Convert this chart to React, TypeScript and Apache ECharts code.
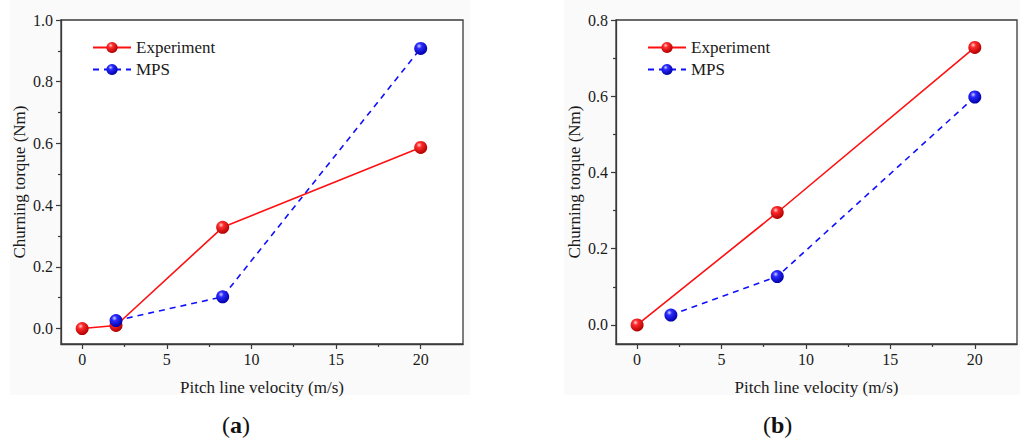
import React, { useEffect, useRef } from "react";
import * as echarts from "echarts";

const xMajor = [0, 5, 10, 15, 20];
const xMinor = [2.5, 7.5, 12.5, 17.5];
const yMajorA = [0, 0.2, 0.4, 0.6, 0.8, 1.0];
const yMinorA = [0.1, 0.3, 0.5, 0.7, 0.9];
const yMajorB = [0, 0.2, 0.4, 0.6, 0.8];
const yMinorB = [0.1, 0.3, 0.5, 0.7];

const expA: [number, number][] = [[0, 0], [2, 0.01], [8.3, 0.328], [20, 0.587]];
const mpsA: [number, number][] = [[2, 0.026], [8.3, 0.103], [20, 0.908]];
const expB: [number, number][] = [[0, 0], [8.3, 0.295], [20, 0.728]];
const mpsB: [number, number][] = [[2, 0.026], [8.3, 0.127], [20, 0.598]];

const FONT = "Liberation Serif";
const TXT = "#1a1a1a";
const AX = "#3a3a3a";

const redBall = new echarts.graphic.RadialGradient(0.38, 0.32, 0.68, [
  { offset: 0, color: "#ffd0d0" },
  { offset: 0.3, color: "#ff2a2a" },
  { offset: 1, color: "#b00000" },
]);
const blueBall = new echarts.graphic.RadialGradient(0.38, 0.32, 0.68, [
  { offset: 0, color: "#d0d0ff" },
  { offset: 0.3, color: "#2a2aff" },
  { offset: 1, color: "#0000a8" },
]);

function xAxes(grid: number) {
  const base = {
    gridIndex: grid,
    type: "value" as const,
    position: "bottom" as const,
    min: -1.25,
    max: 22.5,
    splitLine: { show: false },
  };
  return [
    {
      ...base,
      name: "Pitch line velocity (m/s)",
      nameLocation: "middle" as const,
      nameGap: 35,
      nameTextStyle: { fontFamily: FONT, fontSize: 17, color: TXT },
      axisLine: { show: true, onZero: false, lineStyle: { color: AX, width: 1.3 } },
      axisTick: { show: true, inside: false, length: 5, customValues: xMajor, lineStyle: { color: AX, width: 1.2 } },
      axisLabel: { show: true, margin: 7, customValues: xMajor, fontFamily: FONT, fontSize: 16, color: TXT },
    },
    {
      ...base,
      axisLine: { show: false, onZero: false },
      axisTick: { show: true, inside: false, length: 3, customValues: xMinor, lineStyle: { color: AX, width: 1.2 } },
      axisLabel: { show: false },
    },
  ];
}

function yAxes(grid: number, max: number, major: number[], minor: number[]) {
  const base = {
    gridIndex: grid,
    type: "value" as const,
    position: "left" as const,
    min: -0.05,
    max,
    splitLine: { show: false },
  };
  return [
    {
      ...base,
      name: "Churning torque (Nm)",
      nameLocation: "middle" as const,
      nameGap: 33,
      nameTextStyle: { fontFamily: FONT, fontSize: 17, color: TXT },
      axisLine: { show: true, onZero: false, lineStyle: { color: AX, width: 1.3 } },
      axisTick: { show: true, inside: false, length: 5, customValues: major, lineStyle: { color: AX, width: 1.2 } },
      axisLabel: {
        show: true,
        margin: 8,
        customValues: major,
        formatter: (v: number) => v.toFixed(1),
        fontFamily: FONT,
        fontSize: 16,
        color: TXT,
      },
    },
    {
      ...base,
      axisLine: { show: false, onZero: false },
      axisTick: { show: true, inside: false, length: 3, customValues: minor, lineStyle: { color: AX, width: 1.2 } },
      axisLabel: { show: false },
    },
  ];
}

function expSeries(name: string, data: [number, number][], xi: number, yi: number) {
  return {
    name,
    type: "line",
    xAxisIndex: xi,
    yAxisIndex: yi,
    data,
    symbol: "circle",
    symbolSize: 13,
    lineStyle: { color: "#ff1010", width: 1.6 },
    itemStyle: { color: redBall, borderWidth: 0 },
    z: 3,
  };
}
function mpsSeries(name: string, data: [number, number][], xi: number, yi: number) {
  return {
    name,
    type: "line",
    xAxisIndex: xi,
    yAxisIndex: yi,
    data,
    symbol: "circle",
    symbolSize: 13,
    lineStyle: { color: "#1010ff", width: 1.6, type: [6, 5] },
    itemStyle: { color: blueBall, borderWidth: 0 },
    z: 4,
  };
}

export default function App() {
  const ref = useRef<HTMLDivElement>(null);
  useEffect(() => {
    if (!ref.current) return;
    const chart = echarts.init(ref.current, undefined, { renderer: "svg" });
    const legendCommon = {
      orient: "vertical" as const,
      itemWidth: 38,
      itemHeight: 14,
      itemGap: 5,
      padding: 0,
      textStyle: { fontFamily: FONT, fontSize: 17, color: TXT },
      selectedMode: false,
    };
    chart.setOption({
      animation: false,
      backgroundColor: "#ffffff",
      graphic: [
        { type: "rect", shape: { x: 10, y: 0, width: 460, height: 395 }, style: { fill: "#fafafa" }, z: -10 },
        { type: "rect", shape: { x: 564, y: 0, width: 456, height: 395 }, style: { fill: "#fafafa" }, z: -10 },
        {
          type: "text",
          left: 222,
          top: 413,
          style: {
            text: "({b|a})",
            font: `24px ${FONT}`,
            fill: "#111",
            rich: { b: { fontFamily: FONT, fontSize: 24, fontWeight: "bold", fill: "#111" } },
          },
        },
        {
          type: "text",
          left: 763,
          top: 413,
          style: {
            text: "({b|b})",
            font: `24px ${FONT}`,
            fill: "#111",
            rich: { b: { fontFamily: FONT, fontSize: 24, fontWeight: "bold", fill: "#111" } },
          },
        },
      ],
      grid: [
        { left: 61, top: 20, width: 402, height: 324, show: true, borderColor: AX, borderWidth: 1.3, backgroundColor: "#ffffff" },
        { left: 616, top: 20, width: 401, height: 324, show: true, borderColor: AX, borderWidth: 1.3, backgroundColor: "#ffffff" },
      ],
      xAxis: [...xAxes(0), ...xAxes(1)],
      yAxis: [
        ...yAxes(0, 1.0, yMajorA, yMinorA),
        ...yAxes(1, 0.8, yMajorB, yMinorB),
      ],
      legend: [
        { ...legendCommon, left: 92, top: 39, data: ["Experiment", "MPS"] },
        { ...legendCommon, left: 647, top: 39, data: ["Experiment ", "MPS "] },
      ],
      series: [
        expSeries("Experiment", expA, 0, 0),
        mpsSeries("MPS", mpsA, 0, 0),
        expSeries("Experiment ", expB, 2, 2),
        mpsSeries("MPS ", mpsB, 2, 2),
      ],
    });
    return () => chart.dispose();
  }, []);
  return (
    <div
      ref={ref}
      style={{ position: "absolute", left: 0, top: 0, width: 1020, height: 441 }}
    />
  );
}
